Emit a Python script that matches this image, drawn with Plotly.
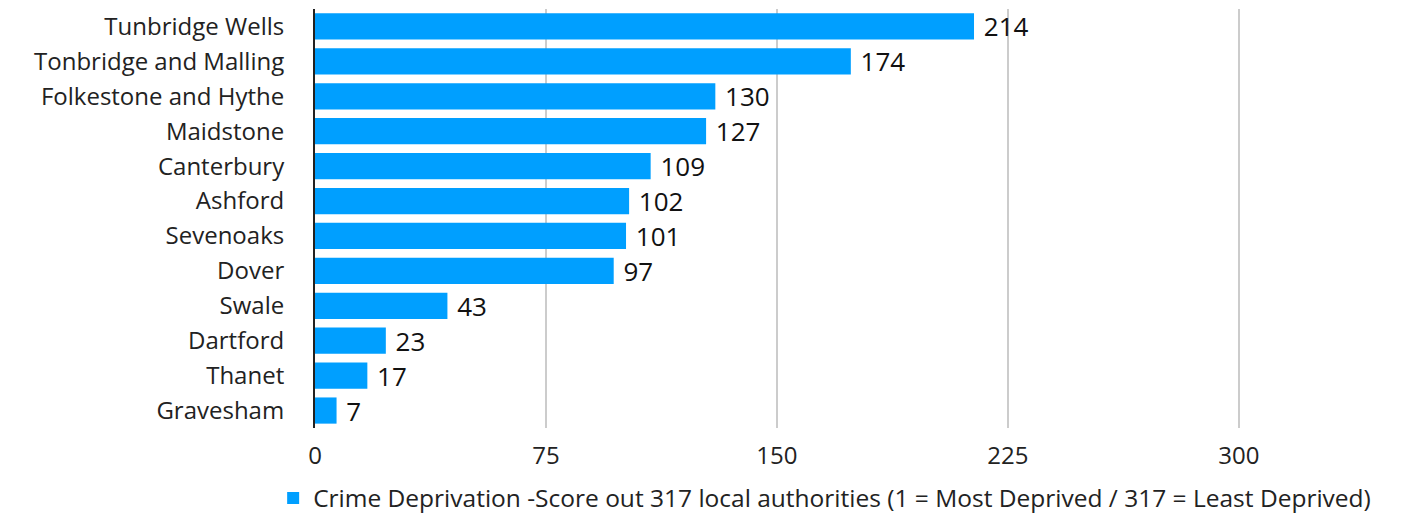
import plotly.graph_objects as go

categories = ["Tunbridge Wells", "Tonbridge and Malling", "Folkestone and Hythe", "Maidstone",
              "Canterbury", "Ashford", "Sevenoaks", "Dover", "Swale", "Dartford", "Thanet", "Gravesham"]
values = [214, 174, 130, 127, 109, 102, 101, 97, 43, 23, 17, 7]
tick_vals = [0, 75, 150, 225, 300]
series_name = "Crime Deprivation -Score out 317 local authorities (1 = Most Deprived / 317 = Least Deprived)"

FONT = "'Open Sans', Lato, sans-serif"

fig = go.Figure()
fig.add_trace(go.Bar(
    y=categories, x=values, orientation="h", name=series_name,
    marker=dict(color="#009FFF", line=dict(width=0)),
    text=["\u00a0" + str(v) for v in values], textposition="outside",
    textfont=dict(size=26, color="#111111", family=FONT),
    constraintext="none",
    cliponaxis=False, showlegend=True,
))

fig.update_layout(
    width=1415, height=518,
    margin=dict(l=307, r=178, t=1, b=98, autoexpand=False),
    plot_bgcolor="white", paper_bgcolor="white",
    bargap=0.25,
    font=dict(family=FONT, size=24, color="#222222"),
    xaxis=dict(range=[0, 302], tickvals=tick_vals, showgrid=True, gridcolor="#cccccc", gridwidth=2,
               zeroline=False, showline=False, ticks="", tickfont=dict(size=24, color="#222222"),
               ticklabelstandoff=11),
    yaxis=dict(autorange="reversed", showline=True, linecolor="#222222", linewidth=2,
               ticks="", tickfont=dict(size=24, color="#222222"), ticklabelstandoff=24),
    legend=dict(orientation="h", x=-0.045, xanchor="left", y=-0.167, yanchor="middle",
                font=dict(size=24.5, color="#222222")),
)

fig.write_html("out.html")
